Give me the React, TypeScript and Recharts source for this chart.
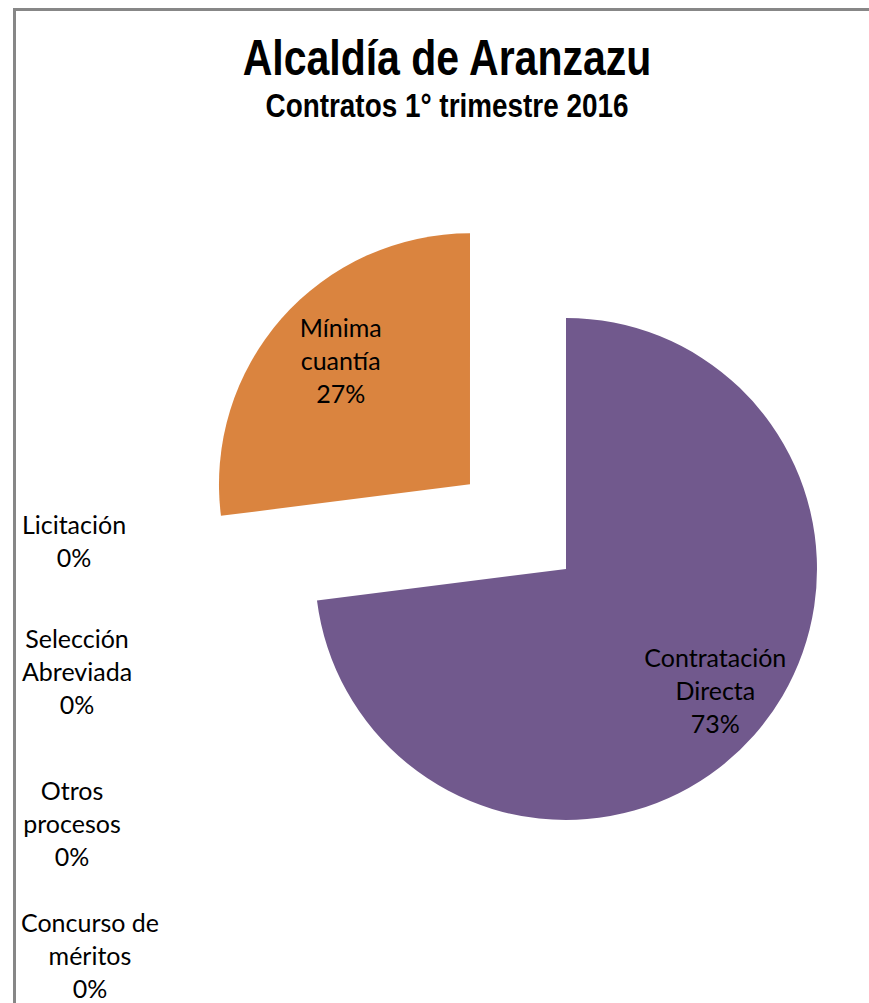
import { PieChart, Pie, Cell } from 'recharts';

// Contracts by procurement type, 1st quarter 2016 (share in %)
const CATEGORIES = [
  'Contratación Directa',
  'Mínima cuantía',
  'Licitación',
  'Selección Abreviada',
  'Otros procesos',
  'Concurso de méritos',
];
const VALUES = [73, 27, 0, 0, 0, 0];
const COLORS = ['#71598D', '#DA843F', '#4F81BD', '#C0504D', '#9BBB59', '#4BACC6'];

const TITLE = 'Alcaldía de Aranzazu';
const SUBTITLE = 'Contratos 1° trimestre 2016';

// layout
const W = 869;
const H = 1003;
const CX = 566;
const CY = 569;
const R = 251;
const EXPLODE = 128; // px offset of the pulled-out slice
const EXPLODED_INDEX = 1;
const LINE_H = 33;
const LABEL_DX = 10; // excel nudges the in-slice labels a bit to the right
const LABEL_FONT = "Lato, 'Open Sans', sans-serif";
const NARROW = "'Liberation Sans', Arial, sans-serif"; // squeezed to look like Arial Narrow
// zero-value labels are stacked on the left like the original
const ZERO_SLOTS = [
  { x: 74, y: 540 },
  { x: 77, y: 671 },
  { x: 72, y: 823 },
  { x: 90, y: 955 },
];

const data = CATEGORIES.map((name, i) => ({ name, value: VALUES[i] }));

// greedy wrap, ~11 chars per line
function wrap(text: string): string[] {
  const out: string[] = [];
  for (const w of text.split(' ')) {
    const last = out[out.length - 1];
    if (last && (last + ' ' + w).length <= 11) out[out.length - 1] = last + ' ' + w;
    else out.push(w);
  }
  return out;
}

// mid angle of the exploded slice, in recharts degrees (clockwise from 12 o'clock)
const total = VALUES.reduce((s, v) => s + v, 0);
const before = VALUES.slice(0, EXPLODED_INDEX).reduce((s, v) => s + v, 0);
const midDeg = 90 - (360 * (before + VALUES[EXPLODED_INDEX] / 2)) / total;
const RAD = Math.PI / 180;
const ECX = CX + EXPLODE * Math.cos(midDeg * RAD);
const ECY = CY - EXPLODE * Math.sin(midDeg * RAD);

function MultiLine({ x, y, lines }: { x: number; y: number; lines: string[] }) {
  const top = y - ((lines.length - 1) * LINE_H) / 2;
  return (
    <text x={x} y={top} textAnchor="middle" dominantBaseline="central" fill="#000" fontSize={25} fontFamily={LABEL_FONT}>
      {lines.map((l, i) => (
        <tspan key={i} x={x} y={top + i * LINE_H}>
          {l}
        </tspan>
      ))}
    </text>
  );
}

// eslint-disable-next-line @typescript-eslint/no-explicit-any
const makeLabel = (show: (i: number) => boolean) => (props: any) => {
  const { cx, cy, midAngle, outerRadius, index, name, value } = props;
  if (!show(index)) return null;
  const pct = `${Math.round((value / total) * 100)}%`;
  const lines = [...wrap(name), pct];
  if (value === 0) {
    const slot = ZERO_SLOTS[index - 2] ?? ZERO_SLOTS[0];
    return <MultiLine key={index} x={slot.x} y={slot.y} lines={lines} />;
  }
  const r = outerRadius * 0.74;
  const x = cx + r * Math.cos(-midAngle * RAD) + LABEL_DX;
  const y = cy + r * Math.sin(-midAngle * RAD) - 2;
  return <MultiLine key={index} x={x} y={y} lines={lines} />;
};

const titleStyle = {
  position: 'absolute' as const,
  left: 0,
  width: 894,
  textAlign: 'center' as const,
  fontFamily: NARROW,
  fontWeight: 700,
  color: '#000',
  whiteSpace: 'nowrap' as const,
  transformOrigin: '447px 50%',
};

export default function App() {
  return (
    <div style={{ position: 'absolute', left: 0, top: 0, width: W, height: H, overflow: 'hidden', background: '#fff' }}>
      <div
        style={{
          position: 'absolute',
          left: 13,
          top: 8,
          width: W + 20,
          height: H + 20,
          border: '3px solid #878787',
        }}
      />
      <div style={{ ...titleStyle, top: 33, fontSize: 50, lineHeight: '50px', transform: 'scaleX(0.82)' }}>{TITLE}</div>
      <div style={{ ...titleStyle, top: 89, fontSize: 33, lineHeight: '33px', transform: 'scaleX(0.845)' }}>{SUBTITLE}</div>
      <div style={{ position: 'absolute', left: 0, top: 0 }}>
        <PieChart width={W} height={H} margin={{ top: 0, right: 0, bottom: 0, left: 0 }}>
          <Pie
            data={data}
            dataKey="value"
            nameKey="name"
            cx={CX}
            cy={CY}
            outerRadius={R}
            startAngle={90}
            endAngle={-270}
            stroke="none"
            labelLine={false}
            label={makeLabel((i) => i !== EXPLODED_INDEX)}
            isAnimationActive={false}
          >
            {data.map((d, i) => (
              <Cell key={d.name} fill={i === EXPLODED_INDEX ? 'none' : COLORS[i]} />
            ))}
          </Pie>
          <Pie
            data={data}
            dataKey="value"
            nameKey="name"
            cx={ECX}
            cy={ECY}
            outerRadius={R}
            startAngle={90}
            endAngle={-270}
            stroke="none"
            labelLine={false}
            label={makeLabel((i) => i === EXPLODED_INDEX)}
            isAnimationActive={false}
          >
            {data.map((d, i) => (
              <Cell key={d.name} fill={i === EXPLODED_INDEX ? COLORS[i] : 'none'} />
            ))}
          </Pie>
        </PieChart>
      </div>
    </div>
  );
}
